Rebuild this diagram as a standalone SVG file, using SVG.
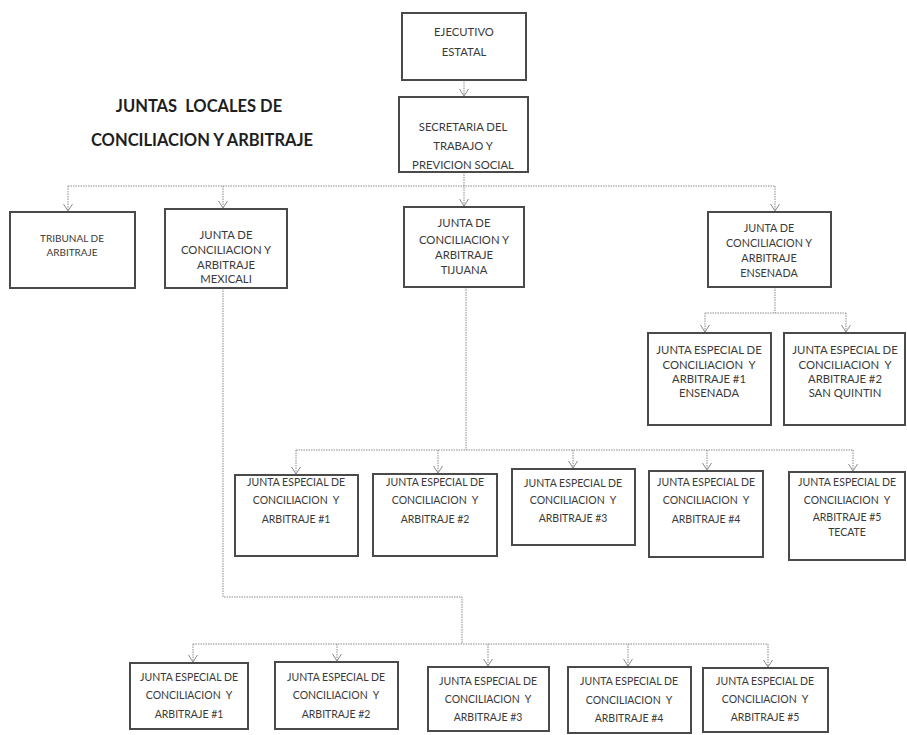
<svg xmlns="http://www.w3.org/2000/svg" width="907" height="735" viewBox="0 0 907 735">
<style>
.box{fill:#fff;stroke:#4a4a4a;stroke-width:2}
.t{font-family:Lato,"Liberation Sans",sans-serif;font-size:10.5px;fill:#3a3a3a;text-anchor:middle;white-space:pre}
.l{font-size:11.3px}
.e{font-size:11.3px}
.title{font-family:Lato,"Liberation Sans",sans-serif;font-size:16.5px;font-weight:bold;fill:#1e1e1e;text-anchor:middle;white-space:pre}
.c{fill:none;stroke:#8a8a8a;stroke-width:1;stroke-dasharray:1.5 1}
</style>
<defs>
<marker id="a" viewBox="0 0 8 10" refX="7.5" refY="5" markerWidth="8" markerHeight="10" markerUnits="userSpaceOnUse" orient="auto">
<path d="M0.5,0.5 L7.5,5 L0.5,9.5" fill="none" stroke="#8a8a8a" stroke-width="1"/>
</marker>
</defs>
<rect width="907" height="735" fill="#fff"/>
<g id="title">
<text class="title" x="199" y="112" xml:space="preserve">JUNTAS  LOCALES DE</text>
<text class="title" x="202" y="146">CONCILIACION Y ARBITRAJE</text>
</g>
<g id="connectors">
<path class="c" d="M464,80 V96" marker-end="url(#a)"/>
<path class="c" d="M464,172 V206" marker-end="url(#a)"/>
<path class="c" d="M68,186 H775"/>
<path class="c" d="M68,186 V211" marker-end="url(#a)"/>
<path class="c" d="M223,186 V208" marker-end="url(#a)"/>
<path class="c" d="M775,186 V211" marker-end="url(#a)"/>
<path class="c" d="M223,288 V597 H462 V644"/>
<path class="c" d="M193,644 H768"/>
<path class="c" d="M193,644 V662" marker-end="url(#a)"/>
<path class="c" d="M337,644 V661" marker-end="url(#a)"/>
<path class="c" d="M488,644 V666" marker-end="url(#a)"/>
<path class="c" d="M628,644 V666" marker-end="url(#a)"/>
<path class="c" d="M768,644 V667" marker-end="url(#a)"/>
<path class="c" d="M466,287 V450"/>
<path class="c" d="M296,450 H853"/>
<path class="c" d="M296,450 V474" marker-end="url(#a)"/>
<path class="c" d="M438,450 V473" marker-end="url(#a)"/>
<path class="c" d="M573,450 V468" marker-end="url(#a)"/>
<path class="c" d="M707,450 V470" marker-end="url(#a)"/>
<path class="c" d="M853,450 V471" marker-end="url(#a)"/>
<path class="c" d="M775,287 V313"/>
<path class="c" d="M705,313 H846"/>
<path class="c" d="M705,313 V332" marker-end="url(#a)"/>
<path class="c" d="M846,313 V332" marker-end="url(#a)"/>
</g>
<g id="ejecutivo"><rect class="box" x="402" y="13" width="124" height="67"/>
<text class="t l" x="464" y="36">EJECUTIVO</text><text class="t l" x="464" y="56">ESTATAL</text></g>
<g id="secretaria"><rect class="box" x="399" y="97" width="129" height="75"/>
<text class="t l" x="463" y="131">SECRETARIA DEL</text><text class="t l" x="463" y="150">TRABAJO Y</text><text class="t l" x="463" y="169">PREVICION SOCIAL</text></g>
<g id="tribunal"><rect class="box" x="10" y="212" width="125" height="76"/>
<text class="t" x="72" y="242" style="font-size:10px">TRIBUNAL DE</text><text class="t" x="72" y="256" style="font-size:10px">ARBITRAJE</text></g>
<g id="mexicali"><rect class="box" x="165" y="209" width="122" height="79"/>
<text class="t l" x="226" y="239">JUNTA DE</text><text class="t l" x="226" y="254">CONCILIACION Y</text><text class="t l" x="226" y="269">ARBITRAJE</text><text class="t l" x="226" y="283">MEXICALI</text></g>
<g id="tijuana"><rect class="box" x="404" y="207" width="120" height="80"/>
<text class="t l" x="464" y="227">JUNTA DE</text><text class="t l" x="464" y="244">CONCILIACION Y</text><text class="t l" x="464" y="259">ARBITRAJE</text><text class="t l" x="464" y="274">TIJUANA</text></g>
<g id="ensenada"><rect class="box" x="708" y="212" width="123" height="75"/>
<text class="t" x="769" y="232" style="font-size:10.8px">JUNTA DE</text><text class="t" x="769" y="247" style="font-size:10.8px">CONCILIACION Y</text><text class="t" x="769" y="262" style="font-size:10.8px">ARBITRAJE</text><text class="t" x="769" y="277" style="font-size:10.8px">ENSENADA</text></g>
<g id="ens1"><rect class="box" x="648" y="333" width="123" height="92"/>
<text class="t e" x="709" y="354">JUNTA ESPECIAL DE</text><text class="t e" x="709" y="369" xml:space="preserve">CONCILIACION  Y</text><text class="t e" x="709" y="383">ARBITRAJE #1</text><text class="t e" x="709" y="397">ENSENADA</text></g>
<g id="ens2"><rect class="box" x="784" y="333" width="121" height="92"/>
<text class="t e" x="845" y="354">JUNTA ESPECIAL DE</text><text class="t e" x="845" y="369" xml:space="preserve">CONCILIACION  Y</text><text class="t e" x="845" y="383">ARBITRAJE #2</text><text class="t e" x="845" y="397">SAN QUINTIN</text></g>
<g id="tj1"><rect class="box" x="235" y="475" width="123" height="81"/>
<text class="t" x="296" y="486">JUNTA ESPECIAL DE</text><text class="t" x="296" y="504" xml:space="preserve">CONCILIACION  Y</text><text class="t" x="296" y="523">ARBITRAJE #1</text></g>
<g id="tj2"><rect class="box" x="373" y="474" width="124" height="82"/>
<text class="t" x="435" y="486">JUNTA ESPECIAL DE</text><text class="t" x="435" y="504" xml:space="preserve">CONCILIACION  Y</text><text class="t" x="435" y="523">ARBITRAJE #2</text></g>
<g id="tj3"><rect class="box" x="512" y="469" width="123" height="76"/>
<text class="t" x="573" y="487">JUNTA ESPECIAL DE</text><text class="t" x="573" y="504" xml:space="preserve">CONCILIACION  Y</text><text class="t" x="573" y="522">ARBITRAJE #3</text></g>
<g id="tj4"><rect class="box" x="649" y="471" width="114" height="86"/>
<text class="t" x="706" y="486">JUNTA ESPECIAL DE</text><text class="t" x="706" y="504" xml:space="preserve">CONCILIACION  Y</text><text class="t" x="706" y="523">ARBITRAJE #4</text></g>
<g id="tj5"><rect class="box" x="789" y="472" width="116" height="88"/>
<text class="t" x="847" y="486">JUNTA ESPECIAL DE</text><text class="t" x="847" y="504" xml:space="preserve">CONCILIACION  Y</text><text class="t" x="847" y="521">ARBITRAJE #5</text><text class="t" x="847" y="536">TECATE</text></g>
<g id="mx1"><rect class="box" x="130" y="663" width="118" height="66"/>
<text class="t" x="189" y="681">JUNTA ESPECIAL DE</text><text class="t" x="189" y="699" xml:space="preserve">CONCILIACION  Y</text><text class="t" x="189" y="718">ARBITRAJE #1</text></g>
<g id="mx2"><rect class="box" x="275" y="662" width="123" height="67"/>
<text class="t" x="336" y="681">JUNTA ESPECIAL DE</text><text class="t" x="336" y="699" xml:space="preserve">CONCILIACION  Y</text><text class="t" x="336" y="718">ARBITRAJE #2</text></g>
<g id="mx3"><rect class="box" x="428" y="667" width="121" height="64"/>
<text class="t" x="488" y="685">JUNTA ESPECIAL DE</text><text class="t" x="488" y="703" xml:space="preserve">CONCILIACION  Y</text><text class="t" x="488" y="721">ARBITRAJE #3</text></g>
<g id="mx4"><rect class="box" x="568" y="667" width="123" height="66"/>
<text class="t" x="629" y="685">JUNTA ESPECIAL DE</text><text class="t" x="629" y="704" xml:space="preserve">CONCILIACION  Y</text><text class="t" x="629" y="722">ARBITRAJE #4</text></g>
<g id="mx5"><rect class="box" x="703" y="668" width="125" height="64"/>
<text class="t" x="765" y="685">JUNTA ESPECIAL DE</text><text class="t" x="765" y="703" xml:space="preserve">CONCILIACION  Y</text><text class="t" x="765" y="721">ARBITRAJE #5</text></g>
</svg>
